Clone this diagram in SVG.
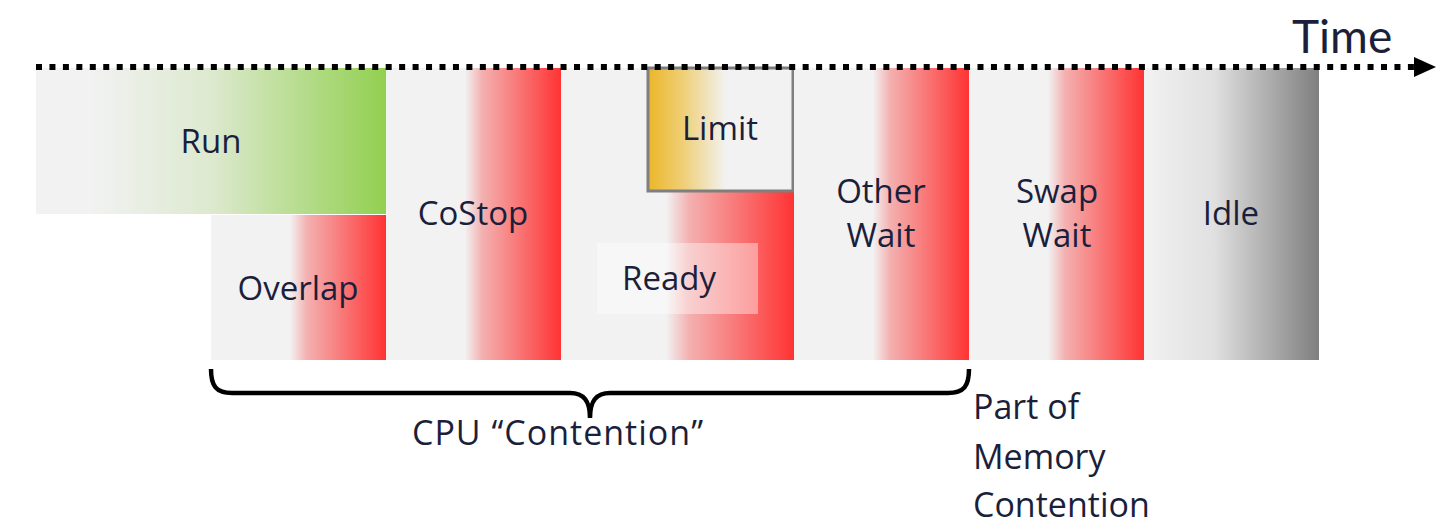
<svg xmlns="http://www.w3.org/2000/svg" width="1455" height="531" viewBox="0 0 1455 531">
<defs>
<linearGradient id="gRed" x1="0" y1="0" x2="1" y2="0">
<stop offset="0" stop-color="#f2f2f2"/>
<stop offset="0.45" stop-color="#f2f2f2"/>
<stop offset="0.55" stop-color="#f4b0b0"/>
<stop offset="1" stop-color="#ff3333"/>
</linearGradient>
<linearGradient id="gGreen" x1="0" y1="0" x2="1" y2="0">
<stop offset="0" stop-color="#f2f2f2"/>
<stop offset="0.15" stop-color="#f2f2f2"/>
<stop offset="0.5" stop-color="#dde9cf"/>
<stop offset="1" stop-color="#92d050"/>
</linearGradient>
<linearGradient id="gGray" x1="0" y1="0" x2="1" y2="0">
<stop offset="0" stop-color="#f2f2f2"/>
<stop offset="0.4" stop-color="#e0e0e0"/>
<stop offset="1" stop-color="#7f7f7f"/>
</linearGradient>
<linearGradient id="gGold" x1="0" y1="0" x2="1" y2="0">
<stop offset="0" stop-color="#ebb628"/>
<stop offset="0.25" stop-color="#efd07a"/>
<stop offset="0.54" stop-color="#f2f2f2"/>
<stop offset="1" stop-color="#f2f2f2"/>
</linearGradient>
<marker id="arrow" markerWidth="22" markerHeight="20" refX="1" refY="10" orient="auto" markerUnits="userSpaceOnUse">
<polygon points="0,0 22,10 0,20" fill="#000"/>
</marker>
</defs>
<style>
.lbl{font-family:"Open Sans","Noto Sans","Liberation Sans",sans-serif;font-size:33px;fill:#1b1f3b;text-anchor:middle}
.note{font-family:"Open Sans","Noto Sans","Liberation Sans",sans-serif;font-size:34px;fill:#1b1f3b}
.time{font-family:Lato,"Open Sans",sans-serif;font-size:46px;fill:#1b1f3b}
</style>
<g id="run"><rect x="36" y="68" width="350" height="146" fill="url(#gGreen)"/><text class="lbl" x="211" y="153">Run</text></g>
<g id="overlap"><rect x="211" y="215" width="175" height="145" fill="url(#gRed)"/><text class="lbl" x="298" y="300">Overlap</text></g>
<g id="costop"><rect x="386" y="68" width="175" height="292" fill="url(#gRed)"/><text class="lbl" x="473" y="225">CoStop</text></g>
<g id="ready"><rect x="561" y="68" width="233" height="292" fill="url(#gRed)"/><rect x="597" y="243" width="161" height="71" fill="#ffffff" fill-opacity="0.4"/><text class="lbl" x="669" y="290">Ready</text></g>
<g id="limit"><rect x="648" y="68" width="145" height="123" fill="url(#gGold)" stroke="#7f7f7f" stroke-width="3"/><text class="lbl" x="720" y="140">Limit</text></g>
<g id="otherwait"><rect x="794" y="68" width="175" height="292" fill="url(#gRed)"/><text class="lbl" x="881" y="203">Other</text><text class="lbl" x="881" y="247">Wait</text></g>
<g id="swapwait"><rect x="969" y="68" width="175" height="292" fill="url(#gRed)"/><text class="lbl" x="1057" y="203">Swap</text><text class="lbl" x="1057" y="247">Wait</text></g>
<g id="idle"><rect x="1144" y="68" width="175" height="292" fill="url(#gGray)"/><text class="lbl" x="1231" y="225">Idle</text></g>
<g id="connectors">
<line x1="36" y1="67" x2="1415" y2="67" stroke="#000" stroke-width="6" stroke-dasharray="6 7.45" marker-end="url(#arrow)"/>
<path d="M211,369 C211,386 216,393 232,393 L570,393 C584,393 590,401 590,418 C590,401 596,393 610,393 L948,393 C964,393 969,386 969,369" fill="none" stroke="#000" stroke-width="4.5"/>
</g>
<g id="time"><text class="time" x="1292" y="53">Time</text></g>
<g id="cpu"><text class="note" x="412" y="445" letter-spacing="1">CPU “Contention”</text></g>
<g id="memory"><text class="note" x="973" y="419">Part of</text><text class="note" x="973" y="469">Memory</text><text class="note" x="973" y="517">Contention</text></g>
</svg>
